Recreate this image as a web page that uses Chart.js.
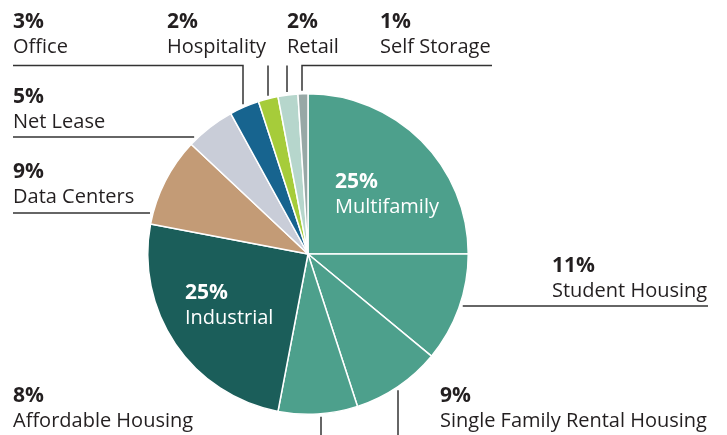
<!DOCTYPE html>
<html>
<head>
<meta charset="utf-8">
<script src="https://cdn.jsdelivr.net/npm/chart.js@4"></script>
<style>
  html, body { margin: 0; padding: 0; background: #fff; }
  #wrap { width: 727px; height: 435px; position: relative; }
</style>
</head>
<body>
<div id="wrap"><canvas id="allocChart"></canvas></div>
<script>
const categories = ['Multifamily', 'Student Housing', 'Single Family Rental Housing', 'Affordable Housing',
    'Industrial', 'Data Centers', 'Net Lease', 'Office', 'Hospitality', 'Retail', 'Self Storage'];
const shares = [25, 11, 9, 8, 25, 9, 5, 3, 2, 2, 1];
const sliceColors = ['#4DA08C', '#4DA08C', '#4DA08C', '#4DA08C', '#1B5E5A', '#C39B76',
    '#C9CDD8', '#17648F', '#A6CC3A', '#B6D6CC', '#97A8A6'];

// label placement: x, baseline of the percent line, leader line (points + direction to the pie)
const labelLayout = [
    { x: 335, y: 188, inside: true },
    { x: 552, y: 272, pts: [[708, 306]], to: 'left' },
    { x: 440, y: 402, pts: [[398, 435]], to: 'up' },
    { x: 13, y: 402, pts: [[321, 435]], to: 'up' },
    { x: 185, y: 299, inside: true },
    { x: 13, y: 178, pts: [[13, 213]], to: 'right' },
    { x: 13, y: 103, pts: [[13, 137]], to: 'right' },
    { x: 13, y: 28, pts: [[13, 65.5], [243, 65.5]], to: 'down' },
    { x: 167, y: 28, pts: [[268, 65.5]], to: 'down' },
    { x: 287, y: 28, pts: [[287, 65.5]], to: 'down' },
    { x: 380, y: 28, pts: [[492, 65.5], [302, 65.5]], to: 'down' }
];

const FONT = '"Open Sans", "Noto Sans", sans-serif';

const labelPlugin = {
    id: 'sliceLabels',
    afterDatasetsDraw(chart) {
        const ctx = chart.ctx;
        const arc = chart.getDatasetMeta(0).data[0];
        const cx = arc.x, cy = arc.y, r = arc.outerRadius + 3;
        ctx.save();
        ctx.strokeStyle = '#333';
        ctx.lineWidth = 1.5;
        labelLayout.forEach((lab, i) => {
            if (lab.pts) {
                const last = lab.pts[lab.pts.length - 1];
                let end;
                if (lab.to === 'down' || lab.to === 'up') {
                    const d = Math.sqrt(Math.max(r * r - (last[0] - cx) ** 2, 0));
                    end = [last[0], lab.to === 'down' ? cy - d : cy + d];
                } else {
                    const d = Math.sqrt(Math.max(r * r - (last[1] - cy) ** 2, 0));
                    end = [lab.to === 'right' ? cx - d : cx + d, last[1]];
                }
                ctx.beginPath();
                ctx.moveTo(lab.pts[0][0], lab.pts[0][1]);
                lab.pts.slice(1).forEach(p => ctx.lineTo(p[0], p[1]));
                ctx.lineTo(end[0], end[1]);
                ctx.stroke();
            }
            ctx.fillStyle = lab.inside ? '#ffffff' : '#231F20';
            ctx.textAlign = 'left';
            ctx.textBaseline = 'alphabetic';
            ctx.font = 'bold 21px ' + FONT;
            ctx.fillText(shares[i] + '%', lab.x, lab.y);
            ctx.font = '20px ' + FONT;
            ctx.fillText(categories[i], lab.x, lab.y + 25);
        });
        ctx.restore();
    }
};

new Chart('allocChart', {
    type: 'pie',
    data: {
        labels: categories,
        datasets: [{
            data: shares,
            backgroundColor: sliceColors,
            borderColor: '#ffffff',
            borderWidth: 1.5
        }]
    },
    options: {
        responsive: true,
        maintainAspectRatio: false,
        animation: false,
        layout: { padding: { left: 147, right: 258, top: 93, bottom: 20 } },
        plugins: {
            legend: { display: false },
            tooltip: { enabled: false }
        }
    },
    plugins: [labelPlugin]
});
</script>
</body>
</html>
